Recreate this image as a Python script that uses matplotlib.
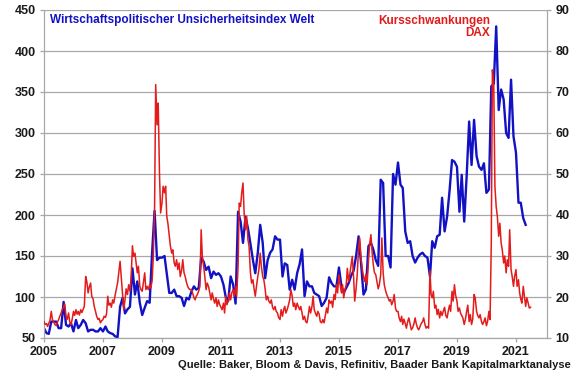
import matplotlib
matplotlib.use('Agg')
import matplotlib.pyplot as plt
import pandas as pd

# Economic policy uncertainty index, world (monthly, left axis)
blue_values = [
    62, 56, 55, 70, 70, 70, 62, 62, 94, 66, 64, 68,          # 2005
    58, 72, 62, 66, 72, 68, 58, 60, 60, 58, 58, 62,          # 2006
    58, 64, 58, 56, 55, 52, 51, 88, 99, 80, 85, 88,          # 2007
    135, 103, 119, 93, 78, 87, 95, 93, 155, 205, 145, 148,   # 2008
    148, 150, 129, 105, 105, 109, 101, 101, 99, 89, 99, 97,  # 2009
    107, 113, 109, 111, 148, 143, 133, 137, 123, 131, 127, 129,  # 2010
    125, 115, 100, 95, 125, 115, 92, 204, 192, 166, 198, 184,    # 2011
    165, 145, 129, 154, 188, 166, 123, 145, 154, 158, 174, 170,  # 2012
    170, 125, 141, 139, 109, 121, 109, 129, 140, 158, 101, 119,  # 2013
    113, 113, 105, 103, 101, 89, 93, 99, 124, 117, 113, 113,     # 2014
    136, 113, 105, 111, 117, 126, 132, 150, 174, 142, 103, 109,  # 2015
    162, 166, 158, 145, 138, 243, 239, 150, 150, 136, 250, 237,  # 2016
    264, 237, 233, 180, 166, 168, 150, 142, 148, 152, 154, 150,  # 2017
    148, 125, 168, 160, 174, 176, 221, 180, 198, 229, 267, 265,  # 2018
    259, 204, 249, 192, 247, 314, 261, 316, 272, 259, 255, 263,  # 2019
    227, 231, 357, 360, 430, 328, 353, 341, 300, 294, 365, 296,  # 2020
    276, 215, 215, 196, 188,                                     # 2021
]

# DAX volatility (semi-monthly, right axis)
red_2005 = [14.0, 13.3, 13.5, 12.8, 13.6, 14.2, 16.5, 14.5, 14.0, 13.3, 13.0, 13.8,
            14.5, 15.3, 16.1, 16.9, 17.7, 18.3, 15.3, 14.5, 16.1, 14.0, 13.2, 14.5]
red_2006 = [16.5, 15.5, 16.9, 15.8, 16.5, 15.6, 16.9, 16.2, 17.0, 17.7, 25.0, 23.8,
            21.0, 22.4, 23.4, 20.2, 19.5, 17.7, 16.5, 15.3, 14.5, 14.8, 13.7, 14.2]
red_2007 = [14.5, 15.3, 15.0, 16.0, 20.2, 18.0, 18.5, 17.5, 19.3, 18.5, 20.5, 21.8,
            23.4, 25.9, 28.7, 25.0, 20.2, 16.9, 19.3, 22.0, 20.6, 23.0, 21.5, 24.5]
red_2008 = [32.5, 29.9, 30.7, 28.3, 25.9, 27.5, 22.6, 21.8, 21.4, 23.4, 25.9, 21.8,
            22.6, 21.8, 23.0, 22.2, 24.0, 29.9, 41.3, 71.8, 62.0, 67.3, 50.0, 40.5]
red_2009 = [43.0, 47.0, 45.4, 47.0, 39.7, 38.0, 34.8, 32.4, 30.7, 31.5, 28.3, 27.5,
            29.1, 26.7, 28.3, 25.0, 26.5, 29.1, 25.9, 25.0, 23.5, 22.6, 22.0, 21.8]
red_2010 = [21.8, 21.0, 19.8, 19.3, 20.2, 20.6, 21.5, 22.6, 36.4, 30.0, 27.5, 25.0,
            21.8, 23.4, 22.5, 21.0, 19.3, 21.0, 19.5, 18.5, 19.8, 17.7, 19.3, 18.2]
red_2011 = [17.5, 16.9, 18.5, 16.1, 20.2, 18.1, 19.0, 21.0, 19.3, 21.0, 21.8, 20.2,
            22.6, 20.2, 27.5, 42.9, 42.1, 45.4, 47.8, 40.5, 36.4, 39.7, 34.0, 32.4]
red_2012 = [25.9, 23.4, 24.2, 22.0, 20.2, 22.5, 25.0, 26.7, 30.7, 27.5, 25.0, 24.2,
            22.0, 19.3, 20.2, 19.0, 18.5, 19.3, 17.5, 16.9, 17.7, 16.5, 16.1, 15.0]
red_2013 = [14.5, 16.9, 15.3, 16.9, 17.7, 16.1, 17.0, 18.0, 19.3, 21.8, 20.2, 17.7,
            18.5, 16.9, 18.5, 17.7, 16.9, 17.7, 16.1, 14.5, 15.3, 14.0, 13.7, 15.3]
red_2014 = [17.7, 16.1, 17.7, 20.2, 16.9, 16.1, 15.3, 16.5, 15.8, 14.0, 13.7, 14.5,
            13.7, 15.3, 17.3, 16.1, 19.3, 18.5, 19.0, 17.5, 20.6, 19.4, 23.0, 21.0]
red_2015 = [25.4, 23.0, 21.0, 23.0, 19.8, 21.5, 23.0, 27.0, 23.8, 25.5, 27.9, 29.9,
            25.0, 19.0, 22.0, 25.4, 32.0, 34.4, 29.5, 27.0, 25.0, 23.8, 25.5, 23.0]
red_2016 = [28.7, 32.8, 35.2, 31.1, 27.9, 26.0, 25.4, 23.8, 22.0, 23.0, 25.4, 34.4,
            26.0, 23.0, 21.5, 20.6, 19.8, 19.0, 19.4, 18.1, 19.0, 20.6, 17.3, 16.5]
red_2017 = [16.5, 14.9, 14.0, 15.3, 13.3, 14.6, 13.5, 12.4, 14.0, 14.9, 13.3, 12.0,
            12.5, 13.3, 14.9, 13.5, 12.4, 12.0, 12.8, 13.5, 14.0, 14.9, 13.3, 12.4]
red_2018 = [12.8, 12.4, 26.5, 20.6, 19.8, 21.4, 17.3, 18.0, 15.7, 17.0, 14.9, 16.5,
            15.5, 16.5, 17.5, 15.5, 14.9, 16.5, 18.0, 16.5, 21.4, 19.0, 23.0, 20.5]
red_2019 = [19.0, 16.5, 17.3, 16.0, 15.5, 14.9, 13.3, 14.5, 16.5, 18.0, 14.0, 15.7,
            13.3, 14.5, 20.6, 19.8, 16.5, 15.5, 14.9, 15.7, 14.0, 13.3, 14.0, 14.9]
red_2020 = [13.0, 14.0, 16.5, 14.5, 33.0, 75.4, 71.4, 47.0, 42.0, 39.7, 34.8, 38.0,
            33.2, 31.5, 28.3, 30.0, 25.9, 29.1, 27.5, 36.4, 26.7, 25.0, 22.6, 25.0]
red_2021 = [26.7, 22.6, 24.2, 21.0, 19.5, 18.5, 22.6, 20.2, 17.7, 19.8, 18.5, 17.3, 17.5]

red_values = (red_2005 + red_2006 + red_2007 + red_2008 + red_2009 + red_2010 +
              red_2011 + red_2012 + red_2013 + red_2014 + red_2015 + red_2016 +
              red_2017 + red_2018 + red_2019 + red_2020 + red_2021)

left_ticks = [50, 100, 150, 200, 250, 300, 350, 400, 450]
right_ticks = [10, 20, 30, 40, 50, 60, 70, 80, 90]
year_ticks = [2005, 2007, 2009, 2011, 2013, 2015, 2017, 2019, 2021]

title_blue = 'Wirtschaftspolitischer Unsicherheitsindex Welt'
title_red = ['Kursschwankungen', 'DAX']
source = 'Quelle: Baker, Bloom & Davis, Refinitiv, Baader Bank Kapitalmarktanalyse'

BLUE = '#1212c4'
RED = '#e31b1b'
GRID = '#a8a8a8'

plt.rcParams['font.family'] = ['Liberation Sans', 'DejaVu Sans']

blue_dates = pd.date_range('2005-01-01', periods=len(blue_values), freq='MS')
red_dates = pd.date_range('2005-01-01', periods=len(red_values), freq='SMS')

W, H = 580, 375
fig = plt.figure(figsize=(W / 100, H / 100), dpi=100)
L, R, T, B = 44, 547, 10, 338
ax = fig.add_axes([L / W, 1 - B / H, (R - L) / W, (B - T) / H])
ax2 = ax.twinx()

ax.plot(blue_dates, blue_values, color=BLUE, lw=1.7, solid_joinstyle='round')
ax2.plot(red_dates, red_values, color=RED, lw=1.1, solid_joinstyle='round')

ax.set_ylim(50, 450)
ax2.set_ylim(10, 90)
ax.set_xlim(pd.Timestamp('2005-01-01'), pd.Timestamp('2022-01-20'))

ax.set_yticks(left_ticks)
ax.set_yticklabels([str(v) for v in left_ticks])
ax2.set_yticks(right_ticks)
ax2.set_yticklabels([str(v) for v in right_ticks])
ax.set_xticks([pd.Timestamp(f'{y}-01-01') for y in year_ticks])
ax.set_xticklabels([str(y) for y in year_ticks])

ax.yaxis.grid(True, color=GRID, lw=0.9)
ax.set_axisbelow(True)

for s in ['top', 'right']:
    ax.spines[s].set_visible(False)
for s in ['top', 'left', 'bottom']:
    ax2.spines[s].set_visible(False)
ax.spines['left'].set_color(GRID)
ax.spines['bottom'].set_color(GRID)
ax2.spines['right'].set_color(GRID)
for sp in [ax.spines['left'], ax.spines['bottom'], ax2.spines['right']]:
    sp.set_linewidth(0.9)

ax.tick_params(axis='y', length=3, width=0.9, color=GRID, pad=3, labelsize=9)
ax.tick_params(axis='x', length=3, width=0.9, color=GRID, pad=3, labelsize=9)
ax2.tick_params(axis='y', length=3, width=0.9, color=GRID, pad=3, labelsize=9)
for lbl in ax.get_xticklabels() + ax.get_yticklabels() + ax2.get_yticklabels():
    lbl.set_fontweight('bold')
    lbl.set_color('#1a1a1a')

fig.text(50 / W, 1 - 20 / H, title_blue, color=BLUE, fontsize=8.5,
         fontweight='bold', ha='left', va='center')
fig.text(490 / W, 1 - 21 / H, title_red[0], color=RED, fontsize=8.5,
         fontweight='bold', ha='right', va='center')
fig.text(490 / W, 1 - 33 / H, title_red[1], color=RED, fontsize=8.5,
         fontweight='bold', ha='right', va='center')
fig.text(571 / W, 1 - 365 / H, source, color='#1a1a1a', fontsize=8,
         fontweight='bold', ha='right', va='center')

fig.savefig('out.png', dpi=100)
